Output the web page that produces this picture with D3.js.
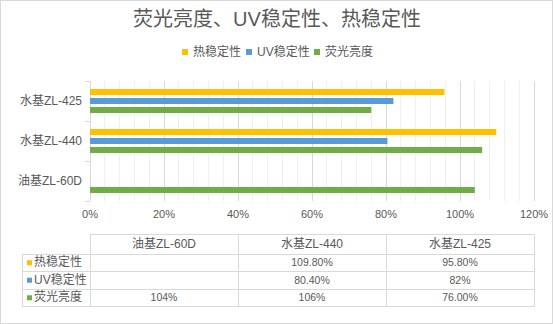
<!DOCTYPE html>
<html><head><meta charset="utf-8">
<script src="https://cdn.jsdelivr.net/npm/d3@7"></script>
<style>
html,body{margin:0;padding:0;background:#fff;}
text{font-family:"Liberation Sans","Noto Sans CJK SC",sans-serif;fill:#595959;}
</style></head>
<body><svg id="c" width="553" height="324"></svg>
<script>
const categories = ["油基ZL-60D", "水基ZL-440", "水基ZL-425"];
const seriesNames = ["热稳定性", "UV稳定性", "荧光亮度"];
const seriesColors = ["#FFC000", "#5B9BD5", "#70AD47"];
const heatValues = [null, 1.098, 0.958];
const uvValues = [null, 0.804, 0.82];
const brightValues = [1.04, 1.06, 0.76];
const heatLabels = ["", "109.80%", "95.80%"];
const uvLabels = ["", "80.40%", "82%"];
const brightLabels = ["104%", "106%", "76.00%"];
const xTicks = [0, 0.2, 0.4, 0.6, 0.8, 1.0, 1.2];
const title = "荧光亮度、UV稳定性、热稳定性";

const seriesValues = [heatValues, uvValues, brightValues];
const seriesLabels = [heatLabels, uvLabels, brightLabels];

const svg = d3.select("#c");
svg.append("rect").attr("x",0.5).attr("y",0.5).attr("width",552).attr("height",323)
  .attr("fill","#fff").attr("stroke","#D9D9D9");

svg.append("text").attr("x",277).attr("y",21).attr("text-anchor","middle")
  .attr("dominant-baseline","middle").style("font-size","20px").text(title);

// legend
const legendX = [182, 246, 314];
seriesNames.forEach((s,i)=>{
  svg.append("rect").attr("x",legendX[i]).attr("y",49).attr("width",6).attr("height",6).attr("fill",seriesColors[i]);
  svg.append("text").attr("x",legendX[i]+11).attr("y",52.5).attr("dominant-baseline","middle")
    .style("font-size","12px").text(s);
});

const x = d3.scaleLinear().domain([0,1.2]).range([90,534]);
const y = d3.scaleBand().domain(categories.slice().reverse()).range([81,201]);
const inner = d3.scaleBand().domain(seriesNames).range([8,32]).paddingInner(1/3);

// gridlines
const minor = d3.range(0, 1.2001, 0.04).filter(v => Math.abs(v*5 - Math.round(v*5)) > 1e-6);
svg.append("g").selectAll("line").data(minor).join("line")
  .attr("x1",d=>x(d)).attr("x2",d=>x(d)).attr("y1",81).attr("y2",201)
  .attr("stroke","#EFEFEF").attr("stroke-width",1).attr("shape-rendering","crispEdges");
svg.append("g").selectAll("line").data(xTicks).join("line")
  .attr("x1",d=>x(d)).attr("x2",d=>x(d)).attr("y1",81).attr("y2",201)
  .attr("stroke","#D9D9D9").attr("stroke-width",1).attr("shape-rendering","crispEdges");

// y axis ticks
const bounds = [81,121,161,201];
svg.append("g").selectAll("line").data(y.domain().map(d=>y(d)).concat([y.range()[1]])).join("line")
  .attr("x1",85).attr("x2",90).attr("y1",d=>d).attr("y2",d=>d)
  .attr("stroke","#D9D9D9").attr("shape-rendering","crispEdges");

// bars
seriesNames.forEach((s,si)=>{
  const data = categories.map((c,ci)=>({c, v: seriesValues[si][ci]})).filter(d=>d.v!=null);
  svg.append("g").selectAll("rect").data(data).join("rect")
    .attr("x",x(0)).attr("width",d=>x(d.v)-x(0))
    .attr("y",d=>y(d.c)+inner(s)).attr("height",inner.bandwidth())
    .attr("fill",seriesColors[si]);
});

// category labels
svg.append("g").selectAll("text").data(categories).join("text")
  .attr("x",82).attr("y",d=>y(d)+y.bandwidth()/2+0.5).attr("text-anchor","end")
  .attr("dominant-baseline","middle").style("font-size","12px").text(d=>d);

// x tick labels
svg.append("g").selectAll("text").data(xTicks).join("text")
  .attr("x",d=>x(d)).attr("y",215).attr("text-anchor","middle")
  .attr("dominant-baseline","middle").style("font-size","11px").text(d=>Math.round(d*100)+"%");

// table
const col = d3.scaleBand().domain(categories).range([90,534]);
const rowY = [234.5, 254, 271.5, 289, 306.5];
const tl = svg.append("g").attr("stroke","#D9D9D9").attr("shape-rendering","crispEdges");
tl.append("line").attr("x1",90).attr("x2",534).attr("y1",rowY[0]).attr("y2",rowY[0]);
rowY.slice(1).forEach(r=>tl.append("line").attr("x1",22.5).attr("x2",534).attr("y1",r).attr("y2",r));
tl.append("line").attr("x1",22.5).attr("x2",22.5).attr("y1",rowY[1]).attr("y2",rowY[4]);
categories.forEach(c=>tl.append("line").attr("x1",col(c)).attr("x2",col(c)).attr("y1",rowY[0]).attr("y2",rowY[4]));
tl.append("line").attr("x1",534).attr("x2",534).attr("y1",rowY[0]).attr("y2",rowY[4]);

svg.append("g").selectAll("text").data(categories).join("text")
  .attr("x",d=>col(d)+col.bandwidth()/2).attr("y",(rowY[0]+rowY[1])/2+0.5)
  .attr("text-anchor","middle").attr("dominant-baseline","middle").style("font-size","12px").text(d=>d);

seriesNames.forEach((s,si)=>{
  const cy = (rowY[si+1]+rowY[si+2])/2;
  svg.append("rect").attr("x",27).attr("y",cy-2.5).attr("width",5).attr("height",5).attr("fill",seriesColors[si]);
  svg.append("text").attr("x",34).attr("y",cy+0.5).attr("dominant-baseline","middle")
    .style("font-size","12px").text(s);
  svg.append("g").selectAll("text").data(categories).join("text")
    .attr("x",d=>col(d)+col.bandwidth()/2).attr("y",cy+0.5)
    .attr("text-anchor","middle").attr("dominant-baseline","middle").style("font-size","10.5px")
    .text((d,ci)=>seriesLabels[si][ci]);
});
</script></body></html>
